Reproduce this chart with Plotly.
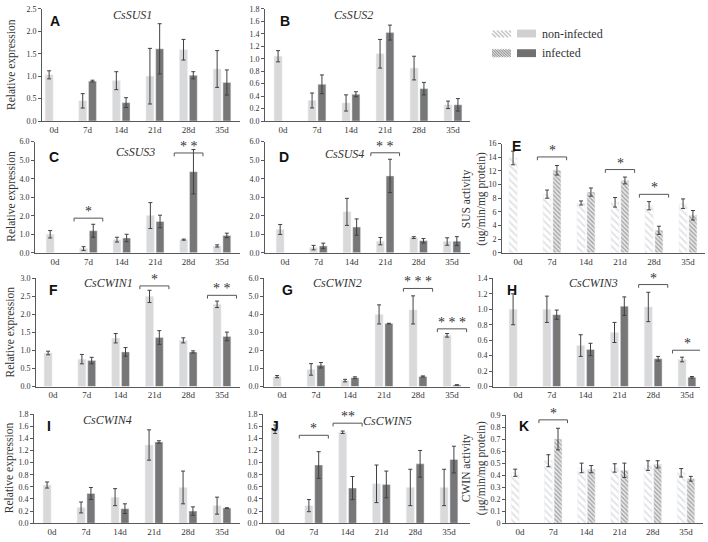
import plotly.graph_objects as go

days = ["0d", "7d", "14d", "21d", "28d", "35d"]

# A  CsSUS1
sus1_ctrl = [1.03, 0.45, 0.90, 1.00, 1.59, 1.16]
sus1_ctrl_sd = [0.09, 0.16, 0.20, 0.62, 0.23, 0.41]
sus1_inf = [None, 0.89, 0.41, 1.61, 1.02, 0.86]
sus1_inf_sd = [0, 0.02, 0.11, 0.56, 0.08, 0.28]
# B  CsSUS2
sus2_ctrl = [1.04, 0.33, 0.29, 1.08, 0.85, 0.26]
sus2_ctrl_sd = [0.09, 0.12, 0.13, 0.23, 0.19, 0.06]
sus2_inf = [None, 0.59, 0.43, 1.42, 0.52, 0.26]
sus2_inf_sd = [0, 0.15, 0.04, 0.12, 0.10, 0.10]
# C  CsSUS3
sus3_ctrl = [1.00, 0.23, 0.71, 2.01, 0.71, 0.37]
sus3_ctrl_sd = [0.20, 0.10, 0.13, 0.70, 0.03, 0.06]
sus3_inf = [None, 1.19, 0.80, 1.69, 4.38, 0.94]
sus3_inf_sd = [0, 0.35, 0.20, 0.34, 1.20, 0.12]
# D  CsSUS4
sus4_ctrl = [1.26, 0.28, 2.21, 0.63, 0.82, 0.61]
sus4_ctrl_sd = [0.27, 0.12, 0.73, 0.20, 0.05, 0.20]
sus4_inf = [None, 0.37, 1.39, 4.15, 0.65, 0.63]
sus4_inf_sd = [0, 0.15, 0.44, 0.90, 0.12, 0.24]
# E  SUS activity
sus_act_ctrl = [13.9, 8.6, 7.3, 7.4, 6.9, 7.2]
sus_act_ctrl_sd = [1.0, 0.6, 0.3, 0.7, 0.6, 0.7]
sus_act_inf = [None, 12.1, 8.9, 10.6, 3.3, 5.5]
sus_act_inf_sd = [0, 0.7, 0.6, 0.5, 0.6, 0.7]
# F  CsCWIN1
cwin1_ctrl = [0.93, 0.76, 1.34, 2.50, 1.28, 2.28]
cwin1_ctrl_sd = [0.05, 0.13, 0.13, 0.17, 0.07, 0.09]
cwin1_inf = [None, 0.72, 0.96, 1.36, 0.96, 1.39]
cwin1_inf_sd = [0, 0.09, 0.12, 0.19, 0.03, 0.12]
# G  CsCWIN2
cwin2_ctrl = [0.55, 0.95, 0.33, 4.00, 4.25, 2.84]
cwin2_ctrl_sd = [0.06, 0.32, 0.07, 0.53, 0.78, 0.10]
cwin2_inf = [None, 1.18, 0.49, 3.49, 0.56, 0.09]
cwin2_inf_sd = [0, 0.15, 0.05, 0.02, 0.03, 0.01]
# H  CsCWIN3
cwin3_ctrl = [1.00, 1.00, 0.53, 0.70, 1.03, 0.35]
cwin3_ctrl_sd = [0.20, 0.17, 0.14, 0.13, 0.19, 0.03]
cwin3_inf = [None, 0.93, 0.48, 1.04, 0.36, 0.12]
cwin3_inf_sd = [0, 0.06, 0.08, 0.12, 0.03, 0.01]
# I  CsCWIN4
cwin4_ctrl = [0.63, 0.26, 0.43, 1.29, 0.59, 0.29]
cwin4_ctrl_sd = [0.05, 0.09, 0.14, 0.25, 0.27, 0.14]
cwin4_inf = [None, 0.49, 0.24, 1.34, 0.20, 0.25]
cwin4_inf_sd = [0, 0.10, 0.08, 0.02, 0.07, 0.005]
# J  CsCWIN5
cwin5_ctrl = [1.55, 0.29, 1.50, 0.65, 0.59, 0.59]
cwin5_ctrl_sd = [0.07, 0.10, 0.02, 0.31, 0.30, 0.30]
cwin5_inf = [None, 0.96, 0.58, 0.64, 0.98, 1.05]
cwin5_inf_sd = [0, 0.22, 0.19, 0.22, 0.22, 0.22]
# K  CWIN activity
cwin_act_ctrl = [0.42, 0.52, 0.46, 0.46, 0.48, 0.42]
cwin_act_ctrl_sd = [0.03, 0.05, 0.04, 0.035, 0.04, 0.035]
cwin_act_inf = [None, 0.70, 0.45, 0.44, 0.49, 0.37]
cwin_act_inf_sd = [0, 0.09, 0.03, 0.06, 0.03, 0.02]

# significance brackets: (day index, bracket height, label)
sig_sus3 = [(1, 1.87, "*"), (4, 5.39, "* *")]
sig_sus4 = [(3, 5.40, "* *")]
sig_sus_act = [(1, 14.05, "*"), (3, 12.2, "*"), (4, 8.57, "*")]
sig_cwin1 = [(3, 2.79, "*"), (5, 2.53, "* *")]
sig_cwin2 = [(4, 5.44, "* * *"), (5, 3.20, "* * *")]
sig_cwin3 = [(4, 1.32, "*"), (5, 0.47, "*")]
sig_cwin5 = [(1, 1.45, "*"), (2, 1.65, "**")]
sig_cwin_act = [(1, 0.86, "*")]

W, H = 708, 542
LIGHT = "#d9d9d9"
DARK = "#777777"
ERR = "#404040"
AXC = "#595959"
TXT = "#333333"
SERIF = "Liberation Serif"
SANS = "Liberation Sans"


def px(x):
    return x / W


def py(y):
    return 1 - y / H


# box = (axis_left, right, top, bottom, centre of 0d, centre of 35d) in pixels
panels = [
    dict(letter="A", gene="CsSUS1", d=(sus1_ctrl, sus1_ctrl_sd, sus1_inf, sus1_inf_sd), sig=[],
         ymax=2.5, dtick=0.5, fmt=".1f", box=(42, 240, 5, 119, 54, 222), gpos=(132, 11), lpos=(48, 7)),
    dict(letter="B", gene="CsSUS2", d=(sus2_ctrl, sus2_ctrl_sd, sus2_inf, sus2_inf_sd), sig=[],
         ymax=1.8, dtick=0.2, fmt=".1f", box=(265, 470, 5, 119, 283, 453), gpos=(353, 11), lpos=(278, 7)),
    dict(letter="C", gene="CsSUS3", d=(sus3_ctrl, sus3_ctrl_sd, sus3_inf, sus3_inf_sd), sig=sig_sus3,
         ymax=6.0, dtick=1.0, fmt=".1f", box=(35, 240, 140, 253, 55, 222), gpos=(135, 151), lpos=(47, 145)),
    dict(letter="D", gene="CsSUS4", d=(sus4_ctrl, sus4_ctrl_sd, sus4_inf, sus4_inf_sd), sig=sig_sus4,
         ymax=6.0, dtick=1.0, fmt=".1f", box=(265, 470, 140, 253, 285, 452), gpos=(344, 153), lpos=(277, 145)),
    dict(letter="E", gene=None, d=(sus_act_ctrl, sus_act_ctrl_sd, sus_act_inf, sus_act_inf_sd), sig=sig_sus_act,
         ymax=16, dtick=2, fmt="d", box=(502, 705, 142, 253, 518, 688), gpos=None, lpos=(510, 134), hatch=True),
    dict(letter="F", gene="CsCWIN1", d=(cwin1_ctrl, cwin1_ctrl_sd, cwin1_inf, cwin1_inf_sd), sig=sig_cwin1,
         ymax=3.0, dtick=0.5, fmt=".1f", box=(36, 240, 279, 389, 53, 222), gpos=(108, 284), lpos=(47, 281)),
    dict(letter="G", gene="CsCWIN2", d=(cwin2_ctrl, cwin2_ctrl_sd, cwin2_inf, cwin2_inf_sd), sig=sig_cwin2,
         ymax=6.0, dtick=1.0, fmt=".1f", box=(264, 470, 279, 389, 282, 452), gpos=(337, 284), lpos=(280, 281)),
    dict(letter="H", gene="CsCWIN3", d=(cwin3_ctrl, cwin3_ctrl_sd, cwin3_inf, cwin3_inf_sd), sig=sig_cwin3,
         ymax=1.4, dtick=0.2, fmt=".1f", box=(493, 700, 279, 389, 518, 687), gpos=(593, 284), lpos=(505, 281)),
    dict(letter="I", gene="CsCWIN4", d=(cwin4_ctrl, cwin4_ctrl_sd, cwin4_inf, cwin4_inf_sd), sig=[],
         ymax=1.8, dtick=0.2, fmt=".1f", box=(34, 240, 417, 528, 52, 222), gpos=(107, 423), lpos=(45, 419)),
    dict(letter="J", gene="CsCWIN5", d=(cwin5_ctrl, cwin5_ctrl_sd, cwin5_inf, cwin5_inf_sd), sig=sig_cwin5,
         ymax=1.8, dtick=0.2, fmt=".1f", box=(263, 470, 417, 528, 280, 449), gpos=(387, 424), lpos=(269, 419)),
    dict(letter="K", gene=None, d=(cwin_act_ctrl, cwin_act_ctrl_sd, cwin_act_inf, cwin_act_inf_sd), sig=sig_cwin_act,
         ymax=0.9, dtick=0.1, fmt=".1~f", box=(506, 703, 418, 528, 520, 686), gpos=None, lpos=(517, 419), hatch=True),
]

fig = go.Figure()
shapes, annos = [], []


def paper_text(x, y, text, font, angle=0, xanchor="center"):
    annos.append(dict(x=px(x), y=py(y), xref="paper", yref="paper", text=text, showarrow=False,
                      textangle=angle, xanchor=xanchor, yanchor="middle", font=font))


for i, p in enumerate(panels, start=1):
    ctrl, ctrl_sd, inf, inf_sd = p["d"]
    left, right, top, bottom, c0, c5 = p["box"]
    sp = (c5 - c0) / 5
    xr = [-(c0 - left) / sp, 5 + (right - c5) / sp]
    xa, ya = f"x{i}", f"y{i}"
    if p.get("hatch"):
        m1 = dict(color="white", pattern=dict(shape="\\", fgcolor="#c4c4c4", bgcolor="white", size=5, solidity=0.35))
        m2 = dict(color="white", pattern=dict(shape="\\", fgcolor="#5f5f5f", bgcolor="#e8e8e8", size=3, solidity=0.45))
    else:
        m1 = dict(color=LIGHT)
        m2 = dict(color=DARK)
    eb = dict(type="data", color=ERR, thickness=1, width=2)
    fig.add_trace(go.Bar(x=days, y=ctrl, marker=m1, error_y=dict(eb, array=ctrl_sd),
                         xaxis=xa, yaxis=ya, showlegend=False))
    fig.add_trace(go.Bar(x=days, y=inf, marker=m2, error_y=dict(eb, array=inf_sd),
                         xaxis=xa, yaxis=ya, showlegend=False))

    sfx = "" if i == 1 else str(i)
    fig.layout[f"xaxis{sfx}"] = dict(
        domain=[px(left), px(right)], anchor=ya, type="category", range=xr,
        showline=True, linecolor=AXC, linewidth=1, ticks="", showgrid=False,
        tickfont=dict(family=SERIF, size=9, color=TXT))
    fig.layout[f"yaxis{sfx}"] = dict(
        domain=[py(bottom), py(top)], anchor=xa, range=[0, p["ymax"]], dtick=p["dtick"],
        tickformat=p["fmt"], showline=True, linecolor=AXC, linewidth=1,
        ticks="outside", ticklen=3, tickcolor=AXC, showgrid=False, zeroline=False,
        tickfont=dict(family=SERIF, size=8, color=TXT))

    # significance brackets
    for di, yb, lab in p["sig"]:
        drop = p["ymax"] * 0.03
        shapes.append(dict(type="path", xref=xa, yref=ya,
                           path=f"M {di - 0.43},{yb - drop} L {di - 0.43},{yb} L {di + 0.43},{yb} L {di + 0.43},{yb - drop}",
                           line=dict(color="#555", width=1)))
        annos.append(dict(x=di, y=yb, xref=xa, yref=ya, text=lab, showarrow=False,
                          xanchor="center", yanchor="bottom", yshift=-3,
                          font=dict(family=SERIF, size=14, color=TXT)))

    # panel letter and gene name
    lx, ly = p["lpos"]
    annos.append(dict(x=px(lx), y=py(ly), xref="paper", yref="paper", text=f"<b>{p['letter']}</b>",
                      showarrow=False, xanchor="left", yanchor="top", font=dict(family=SANS, size=14, color="#111")))
    if p["gene"]:
        gx, gy = p["gpos"]
        paper_text(gx, gy, f"<i>{p['gene']}</i>", dict(family=SERIF, size=12, color=TXT))

# y-axis titles
yfont = dict(family=SERIF, size=11.5, color=TXT)
for x, y in [(12, 62), (12, 196), (10, 334), (9, 472)]:
    paper_text(x, y, "Relative expression", yfont, angle=-90)
paper_text(474, 198, "SUS activity<br>(ug/min/mg protein)", yfont, angle=-90)
paper_text(474, 472, "CWIN activity<br>(μg/min/mg protein)", yfont, angle=-90)


# legend built from shapes
def hatch_box(x0, y0, x1, y1, step, color, width):
    shapes.append(dict(type="rect", xref="paper", yref="paper", x0=px(x0), x1=px(x1), y0=py(y1), y1=py(y0),
                       line=dict(width=0), fillcolor="white"))
    h = y1 - y0
    o = x0 - h
    while o < x1:
        ax, ay, bx, by = o, y0, o + h, y1
        if ax < x0:
            ay += x0 - ax
            ax = x0
        if bx > x1:
            by -= bx - x1
            bx = x1
        if bx > ax:
            shapes.append(dict(type="line", xref="paper", yref="paper", x0=px(ax), y0=py(ay), x1=px(bx), y1=py(by),
                               line=dict(color=color, width=width)))
        o += step


hatch_box(492, 27, 511, 34, 4, "#c8c8c8", 1.6)
hatch_box(492, 46, 511, 54, 1.6, "#777", 0.8)
for y0, y1, c in [(26, 34, "#d0d0d0"), (46, 54, "#707070")]:
    shapes.append(dict(type="rect", xref="paper", yref="paper", x0=px(517), x1=px(536), y0=py(y1), y1=py(y0),
                       line=dict(width=0), fillcolor=c))
for y, t in [(31, "non-infected"), (50, "infected")]:
    paper_text(540, y, t, dict(family=SERIF, size=12, color=TXT), xanchor="left")

fig.update_layout(
    width=W, height=H, margin=dict(l=0, r=0, t=0, b=0),
    paper_bgcolor="white", plot_bgcolor="white",
    barmode="group", bargap=0.42, bargroupgap=0.19,
    shapes=shapes, annotations=annos, showlegend=False,
)

fig.write_html("out.html", config={"displayModeBar": False},
               post_script="document.body.style.margin='0';document.body.style.overflow='hidden';")
